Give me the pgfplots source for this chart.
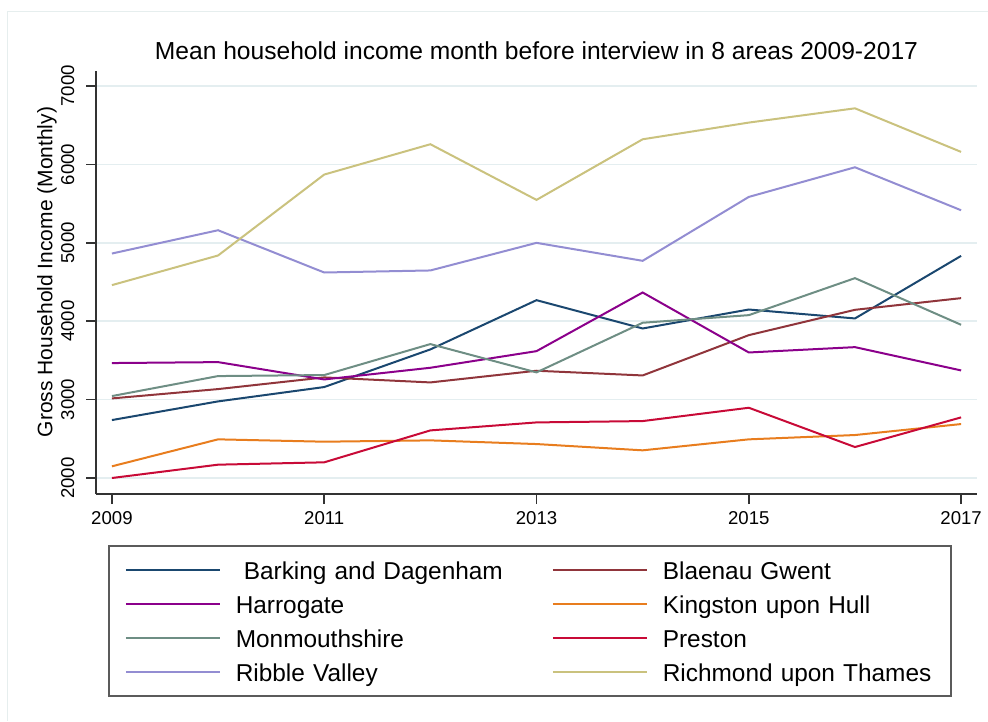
\documentclass[border=0pt]{standalone}
\usepackage{fontspec}
\setmainfont{Liberation Sans}
\usepackage{pgfplots}
\pgfplotsset{compat=1.18}

\definecolor{cBarking}{RGB}{26,71,111}
\definecolor{cBlaenau}{RGB}{144,53,59}
\definecolor{cHarrogate}{RGB}{139,0,139}
\definecolor{cKingston}{RGB}{232,125,30}
\definecolor{cMonmouth}{RGB}{110,142,132}
\definecolor{cPreston}{RGB}{200,10,55}
\definecolor{cRibble}{RGB}{147,141,210}
\definecolor{cRichmond}{RGB}{202,194,126}
\definecolor{gridc}{RGB}{228,238,240}
\definecolor{framec}{RGB}{230,238,238}
\definecolor{axisc}{RGB}{50,50,50}

\begin{document}
\begin{tikzpicture}
\begin{axis}[
    scale only axis,
    width=440.5pt, height=211.5pt,
    xmin=2008.85, xmax=2017.15,
    ymin=1796, ymax=7191,
    axis x line*=bottom, axis y line*=left,
    axis line style={axisc, line width=0.8pt},
    xtick={2009,2011,2013,2015,2017},
    ytick={2000,3000,4000,5000,6000,7000},
    tick align=outside,
    major tick length=5pt,
    tick style={axisc, line width=0.8pt},
    ymajorgrids=true,
    grid style={gridc, line width=0.8pt},
    /pgf/number format/1000 sep={},
    /pgf/number format/assume math mode=true,
    tick label style={font=\fontsize{9.3}{11}\selectfont},
    yticklabel style={xshift=-6pt, rotate=90, anchor=base},
    title={Mean household income month before interview in 8 areas 2009-2017},
    title style={at={(0.5,1)}, anchor=base, yshift=-0.5pt, font=\fontsize{12.3}{14}\selectfont},
    ylabel={Gross Household Income (Monthly)},
    ylabel style={at={(-0.0556,0.5248)}, anchor=center, rotate=0, font=\fontsize{10.5}{12}\selectfont},
    every axis plot/.append style={line width=1pt},
    legend columns=2,
    legend cell align=left,
    legend image code/.code={\draw[#1] (0pt,0pt) -- (47pt,0pt);},
    legend style={
        at={(0.01362,-0.12057)}, anchor=north west,
        draw=axisc!80, line width=0.8pt,
        inner xsep=8pt, inner ysep=3.5pt,
        font=\fontsize{12.2}{14}\selectfont,
        nodes={inner xsep=0pt, inner ysep=2.5pt, text height=11pt, text depth=1pt, text width=136pt, align=left},
        row sep=0pt,
        /tikz/every odd column/.append style={column sep=7.5pt},
        /tikz/every even column/.append style={column sep=22pt},
    },
]
\addplot[cBarking] coordinates {(2009,2739)(2010,2977)(2011,3160)(2012,3640)(2013,4268)(2014,3907)(2015,4149)(2016,4035)(2017,4833)};
\addlegendentry{\hspace*{4pt}Barking and Dagenham}
\addplot[cBlaenau] coordinates {(2009,3015)(2010,3134)(2011,3283)(2012,3219)(2013,3368)(2014,3308)(2015,3822)(2016,4145)(2017,4294)};
\addlegendentry{Blaenau Gwent}
\addplot[cHarrogate] coordinates {(2009,3466)(2010,3478)(2011,3257)(2012,3406)(2013,3618)(2014,4366)(2015,3601)(2016,3669)(2017,3372)};
\addlegendentry{Harrogate}
\addplot[cKingston] coordinates {(2009,2149)(2010,2493)(2011,2463)(2012,2480)(2013,2433)(2014,2353)(2015,2493)(2016,2548)(2017,2688)};
\addlegendentry{Kingston upon Hull}
\addplot[cMonmouth] coordinates {(2009,3045)(2010,3300)(2011,3313)(2012,3708)(2013,3347)(2014,3980)(2015,4077)(2016,4549)(2017,3954)};
\addlegendentry{Monmouthshire}
\addplot[cPreston] coordinates {(2009,2000)(2010,2170)(2011,2200)(2012,2607)(2013,2709)(2014,2726)(2015,2896)(2016,2395)(2017,2773)};
\addlegendentry{Preston}
\addplot[cRibble] coordinates {(2009,4863)(2010,5160)(2011,4621)(2012,4647)(2013,4999)(2014,4770)(2015,5585)(2016,5963)(2017,5415)};
\addlegendentry{Ribble Valley}
\addplot[cRichmond] coordinates {(2009,4460)(2010,4838)(2011,5870)(2012,6257)(2013,5547)(2014,6320)(2015,6533)(2016,6715)(2017,6159)};
\addlegendentry{Richmond upon Thames}
\end{axis}
\draw[framec, line width=0.8pt] (-44.25pt,-113.5pt) -- (-44.25pt,241.25pt) -- (446pt,241.25pt);
\pgfresetboundingbox
\path[use as bounding box] (-48pt,-113.5pt) rectangle (446pt,247pt);
\end{tikzpicture}
\end{document}
